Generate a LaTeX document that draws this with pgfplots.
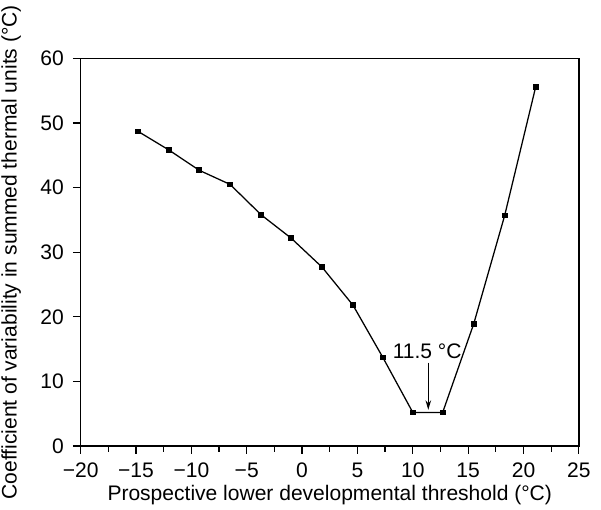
\documentclass[border=0pt]{standalone}
\usepackage{pgfplots}
\pgfplotsset{compat=1.18}
\usepackage{fontspec}
\setmainfont{Liberation Sans}
\usetikzlibrary{arrows.meta,calc}

\newcommand{\chartfont}{\fontsize{13.3}{15.5}\selectfont}

\begin{document}
\chartfont
\begin{tikzpicture}
\begin{axis}[
name=ax,
scale only axis,
width=315pt, height=245pt,
xmin=-20, xmax=25,
ymin=0, ymax=60,
xtick={-20,-15,...,25},
xticklabels={−20,−15,−10,−5,0,5,10,15,20,25},
ytick={0,10,...,60},
minor x tick num=1,
tick align=outside,
xtick pos=left, ytick pos=left,
major tick length=5pt,
minor tick length=3.5pt,
axis line style={line width=1pt},
tick style={line width=0.8pt, black},
ticklabel style={font=\chartfont},
/pgf/number format/assume math mode=true,
xticklabel style={yshift=-1pt},
yticklabel style={xshift=-1pt},
xlabel={Prospective lower developmental threshold (°C)},
ylabel={Coefficient of variability in summed thermal units (°C)},
label style={font=\chartfont},
ylabel style={at={(axis description cs:-0.163,0.5)}, anchor=north, inner sep=1pt},
xlabel style={at={(axis description cs:0.5,0)}, anchor=center, yshift=-31pt},
]
\addplot[black, line width=0.8pt, mark=square*, mark size=1.4pt] coordinates {
(-14.8,48.7)(-12.0,45.8)(-9.3,42.7)(-6.5,40.5)(-3.7,35.8)(-1.0,32.2)(1.8,27.7)(4.6,21.8)(7.3,13.7)(10.0,5.2)(12.7,5.2)(15.5,18.9)(18.3,35.7)(21.1,55.6)
};
\draw[-{Stealth[length=6pt,width=3.5pt]}, line width=0.7pt] (axis cs:11.4,12.9) -- (axis cs:11.4,5.6);
\node[font=\chartfont] at (axis cs:11.3,14.7) {11.5 °C};
\end{axis}
\pgfresetboundingbox
\path ($(ax.south west)+(-51pt,-40pt)$) rectangle ($(ax.north east)+(14pt,37pt)$);
\end{tikzpicture}
\end{document}
